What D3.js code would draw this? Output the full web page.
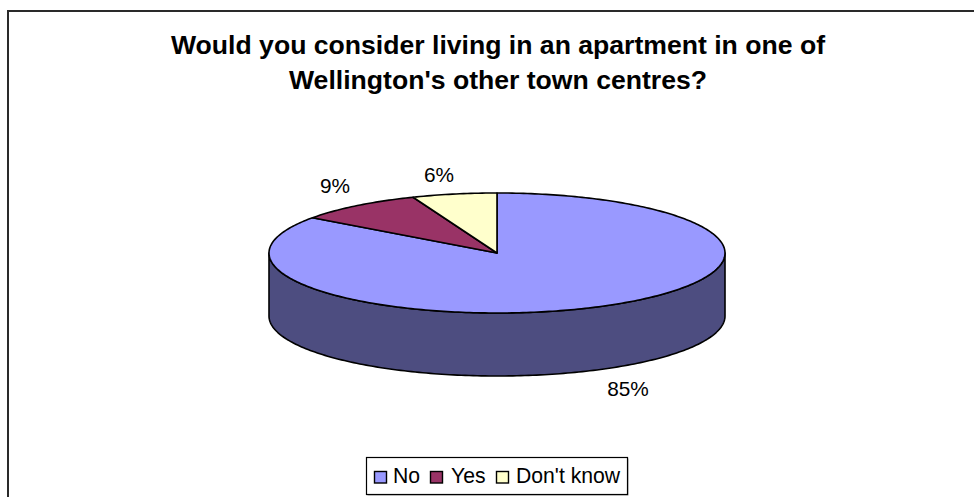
<!DOCTYPE html>
<html><head><meta charset="utf-8">
<script src="https://cdn.jsdelivr.net/npm/d3@7"></script>
<style>html,body{margin:0;padding:0;background:#fff}svg{display:block}text{font-family:"Liberation Sans",Arial,sans-serif;fill:#000}</style>
</head><body><div id="chart"></div>
<script>
const titleLines = ["Would you consider living in an apartment in one of", "Wellington's other town centres?"];
const categories = ["No", "Yes", "Don't know"];
const values = [85, 9, 6];
const colors = ["#9999ff", "#993366", "#ffffcc"];
const wallColor = "#4d4d80";
const W = 974, H = 497;
const svg = d3.select("#chart").append("svg").attr("width", W).attr("height", H);

svg.append("rect").attr("x", 8).attr("y", 11).attr("width", 990).attr("height", 520)
  .attr("fill", "#fff").attr("stroke", "#2a2a2a").attr("stroke-width", 2);

svg.append("g").selectAll("text").data(titleLines).join("text")
  .attr("x", 498).attr("y", (d, i) => 54 + i * 34.5)
  .attr("text-anchor", "middle").attr("font-size", 26.6).attr("font-weight", "bold").text(d => d);

const sx = d3.scaleLinear().domain([-1, 1]).range([269, 725]);
const sy = d3.scaleLinear().domain([-1, 1]).range([193, 313]);
const depth = 63;

// d3.pie: clockwise from 12 o'clock, in data order No -> Yes -> Don't know
const pie = d3.pie().sort(null).value(d => d);
const arcs = pie(values);
const px = a => sx(Math.sin(a));
const py = a => sy(-Math.cos(a));

// Side wall, front half of the ellipse
const wallAngles = d3.range(0, 181).map(i => Math.PI / 2 + i * Math.PI / 180);
const wall = d3.area().x(px).y0(py).y1(a => py(a) + depth);
svg.append("path").attr("d", wall(wallAngles)).attr("fill", wallColor)
  .attr("stroke", "#000").attr("stroke-width", 1.6).attr("stroke-linejoin", "round");

// Top face slices
const sliceLine = d3.line().x(p => p[0]).y(p => p[1]);
svg.append("g").selectAll("path").data(arcs).join("path")
  .attr("d", d => {
    const n = Math.max(8, Math.ceil((d.endAngle - d.startAngle) * 60));
    const pts = d3.range(n + 1).map(i => {
      const a = d.startAngle + (d.endAngle - d.startAngle) * i / n;
      return [px(a), py(a)];
    });
    return sliceLine([[sx(0), sy(0)], ...pts]) + "Z";
  })
  .attr("fill", (d, i) => colors[i]).attr("stroke", "#000")
  .attr("stroke-width", 1.6).attr("stroke-linejoin", "round");

// Percentage labels
const labelPos = [[628, 396], [335, 193], [439, 182]];
svg.append("g").selectAll("text").data(values).join("text")
  .attr("x", (d, i) => labelPos[i][0]).attr("y", (d, i) => labelPos[i][1])
  .attr("text-anchor", "middle").attr("font-size", 20.8).text(d => d + "%");

// Legend
const lg = svg.append("g");
lg.append("rect").attr("x", 367.5).attr("y", 458.5).attr("width", 261).attr("height", 37).attr("fill", "#999");
lg.append("rect").attr("x", 366.5).attr("y", 457.5).attr("width", 261).attr("height", 37)
  .attr("fill", "#fff").attr("stroke", "#000").attr("stroke-width", 1.2);
const swatchX = [374, 430, 496], textX = [393, 451, 516];
categories.forEach((c, i) => {
  lg.append("rect").attr("x", swatchX[i] + .5).attr("y", 471.5).attr("width", 12).attr("height", 11.5)
    .attr("fill", colors[i]).attr("stroke", "#000").attr("stroke-width", 1.4);
  lg.append("text").attr("x", textX[i]).attr("y", 482.5).attr("font-size", 21.2).text(c);
});
</script></body></html>
